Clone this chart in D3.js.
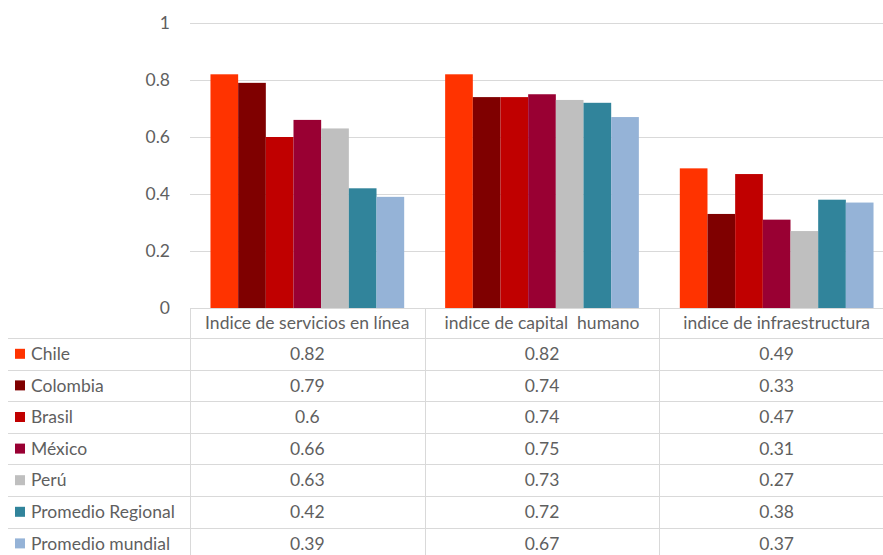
<!DOCTYPE html>
<html>
<head>
<meta charset="utf-8">
<script src="https://cdn.jsdelivr.net/npm/d3@7"></script>
<style>
  html, body { margin: 0; padding: 0; background: #fff; }
  svg { display: block; }
  text { font-family: Lato, "Open Sans", sans-serif; fill: #5f5f5f; }
</style>
</head>
<body>
<svg id="chart" width="883" height="555"></svg>
<script>
// Índices de gobierno electrónico por país y componente
const categories = ["Indice de servicios en línea", "indice de capital  humano", "indice de infraestructura"];
const seriesNames = ["Chile", "Colombia", "Brasil", "México", "Perú", "Promedio Regional", "Promedio mundial"];
const seriesColors = ["#FF3300", "#7F0000", "#C00000", "#990033", "#BFBFBF", "#31849B", "#95B3D7"];
const chile = [0.82, 0.82, 0.49];
const colombia = [0.79, 0.74, 0.33];
const brasil = [0.6, 0.74, 0.47];
const mexico = [0.66, 0.75, 0.31];
const peru = [0.63, 0.73, 0.27];
const promedioRegional = [0.42, 0.72, 0.38];
const promedioMundial = [0.39, 0.67, 0.37];
const yTicks = [0, 0.2, 0.4, 0.6, 0.8, 1];

const seriesValues = [chile, colombia, brasil, mexico, peru, promedioRegional, promedioMundial];
const series = seriesNames.map((name, i) => ({ name, color: seriesColors[i], values: seriesValues[i] }));

const svg = d3.select("#chart");
const plotLeft = 190, plotRight = 894, plotTop = 23, plotBottom = 308;
const tableLeft = 8, headerH = 30, rowH = 31.6;
const fontSize = 17.5;

const x0 = d3.scaleBand().domain(categories).range([plotLeft, plotRight]).paddingInner(0).paddingOuter(0);
const x1 = d3.scaleBand().domain(seriesNames).range([0, x0.bandwidth()]).paddingOuter(0.74).paddingInner(0);
const y = d3.scaleLinear().domain([0, 1]).range([plotBottom, plotTop]);

// horizontal gridlines
svg.append("g").selectAll("line").data(yTicks.filter(t => t > 0)).join("line")
  .attr("x1", plotLeft).attr("x2", plotRight)
  .attr("y1", d => Math.round(y(d)) + 0.5).attr("y2", d => Math.round(y(d)) + 0.5)
  .attr("stroke", "#d9d9d9").attr("stroke-width", 1);

// y-axis labels
const yAxis = d3.axisLeft(y).tickValues(yTicks).tickSize(0).tickPadding(0).tickFormat(d3.format("~g"));
const yg = svg.append("g").attr("transform", `translate(${plotLeft - 20},0)`).call(yAxis);
yg.select(".domain").remove();
yg.selectAll("text").attr("font-size", fontSize).attr("font-family", "Lato, sans-serif").attr("fill", "#5f5f5f");

// bars
const groups = svg.append("g").selectAll("g").data(categories).join("g")
  .attr("transform", d => `translate(${x0(d)},0)`);
groups.selectAll("rect").data((c, ci) => series.map(s => ({ s, v: s.values[ci] }))).join("rect")
  .attr("x", d => x1(d.s.name))
  .attr("width", x1.bandwidth())
  .attr("y", d => y(d.v))
  .attr("height", d => y(0) - y(d.v))
  .attr("fill", d => d.s.color);

// data table
const rowY = d3.scaleBand().domain(seriesNames).range([plotBottom + headerH, plotBottom + headerH + rowH * seriesNames.length]);
const table = svg.append("g");
// top border of the category header
table.append("line").attr("x1", plotLeft).attr("x2", plotRight)
  .attr("y1", plotBottom + 0.5).attr("y2", plotBottom + 0.5).attr("stroke", "#d9d9d9");
// row borders
table.selectAll("line.row").data(seriesNames.concat(["end"])).join("line").attr("class", "row")
  .attr("x1", tableLeft).attr("x2", plotRight)
  .attr("y1", (d, i) => Math.round(plotBottom + headerH + i * rowH) + 0.5)
  .attr("y2", (d, i) => Math.round(plotBottom + headerH + i * rowH) + 0.5)
  .attr("stroke", "#d9d9d9");
// column borders
table.selectAll("line.col").data(categories).join("line").attr("class", "col")
  .attr("x1", d => Math.round(x0(d)) + 0.5).attr("x2", d => Math.round(x0(d)) + 0.5)
  .attr("y1", plotBottom).attr("y2", 560)
  .attr("stroke", "#d9d9d9");

// header labels
table.selectAll("text.head").data(categories).join("text").attr("class", "head")
  .attr("x", d => x0(d) + x0.bandwidth() / 2)
  .attr("y", plotBottom + headerH / 2)
  .attr("dy", "0.35em").attr("text-anchor", "middle").attr("font-size", fontSize)
  .attr("xml:space", "preserve").style("white-space", "pre")
  .text(d => d);

// legend keys
const rows = table.selectAll("g.r").data(series).join("g").attr("class", "r")
  .attr("transform", d => `translate(0,${rowY(d.name) + rowH / 2})`);
rows.append("rect").attr("x", 15).attr("y", -5).attr("width", 10).attr("height", 10).attr("fill", d => d.color);
rows.append("text").attr("x", 31).attr("dy", "0.35em").attr("font-size", fontSize).text(d => d.name);
rows.selectAll("text.v").data(d => d.values.map((v, i) => ({ v, c: categories[i] }))).join("text").attr("class", "v")
  .attr("x", d => x0(d.c) + x0.bandwidth() / 2)
  .attr("dy", "0.35em").attr("text-anchor", "middle").attr("font-size", fontSize)
  .text(d => d3.format("~g")(d.v));
</script>
</body>
</html>
